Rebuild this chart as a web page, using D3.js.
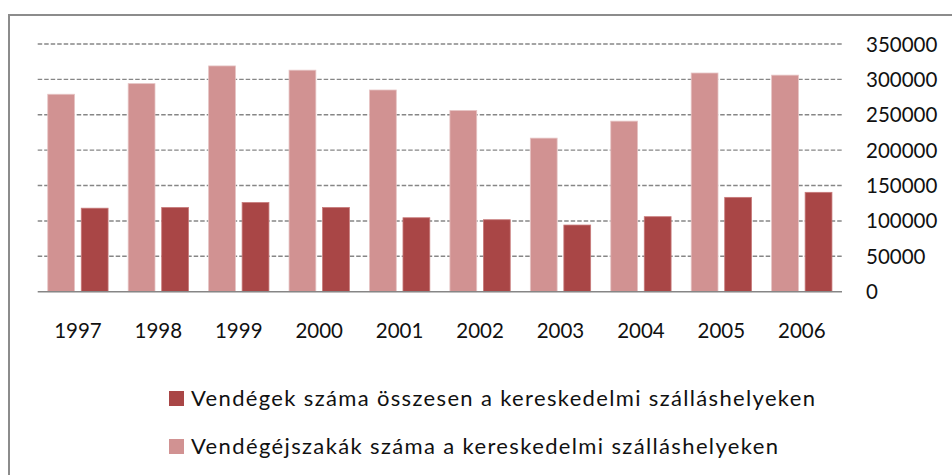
<!DOCTYPE html>
<html>
<head>
<meta charset="utf-8">
<script src="https://cdn.jsdelivr.net/npm/d3@7"></script>
<style>
  html, body { margin: 0; padding: 0; background: #fff; }
  svg { display: block; font-family: Lato, "Open Sans", sans-serif; }
</style>
</head>
<body>
<svg id="chart" width="952" height="475"></svg>
<script>
const years = ['1997','1998','1999','2000','2001','2002','2003','2004','2005','2006'];
// Vendégéjszakák száma (világos oszlop)
const nights = [279000, 294000, 319000, 313000, 285000, 256000, 217000, 241000, 309000, 306000];
// Vendégek száma összesen (sötét oszlop)
const guests = [118000, 119000, 126000, 119000, 104500, 101700, 94200, 106000, 133300, 140400];
const yTicks = [0, 50000, 100000, 150000, 200000, 250000, 300000, 350000];
const seriesNames = ['Vendégek száma összesen a kereskedelmi szálláshelyeken',
                     'Vendégéjszakák száma a kereskedelmi szálláshelyeken'];
const seriesKeys = ['nights', 'guests'];
const colors = { nights: '#d19292', guests: '#a94646' };

const rows = years.map((y, i) => ({ year: y, nights: nights[i], guests: guests[i] }));

const svg = d3.select('#chart');

// keret (csak bal és felső vonal látszik)
svg.append('path')
    .attr('d', 'M9,475 L9,15 L952,15')
    .attr('fill', 'none')
    .attr('stroke', '#8c8c8c')
    .attr('stroke-width', 2);

const plot = { left: 37.7, right: 842, top: 44, bottom: 291.7 };

const x0 = d3.scaleBand()
    .domain(years)
    .range([plot.left, plot.right])
    .paddingInner(0.25)
    .paddingOuter(0.125);

const x1 = d3.scaleBand()
    .domain(seriesKeys)
    .range([0, x0.bandwidth()])
    .paddingInner(0.2);

const y = d3.scaleLinear()
    .domain([0, 350000])
    .range([plot.bottom, plot.top]);

// rácsvonalak
svg.append('g')
    .selectAll('line')
    .data(yTicks.filter(d => d > 0))
    .enter()
    .append('line')
    .attr('x1', plot.left)
    .attr('x2', plot.right)
    .attr('y1', d => y(d))
    .attr('y2', d => y(d))
    .attr('stroke', '#868686')
    .attr('stroke-width', 1.4)
    .attr('stroke-dasharray', '4.5,2');

// oszlopok
svg.append('g')
    .selectAll('g')
    .data(rows)
    .enter()
    .append('g')
    .attr('transform', d => `translate(${x0(d.year)},0)`)
    .selectAll('rect')
    .data(d => seriesKeys.map(k => ({ key: k, value: d[k] })))
    .enter()
    .append('rect')
    .attr('x', d => x1(d.key))
    .attr('y', d => y(d.value))
    .attr('width', x1.bandwidth())
    .attr('height', d => plot.bottom - y(d.value))
    .attr('fill', d => colors[d.key])
    .attr('stroke', d => d.key === 'nights' ? '#e6c4c4' : '#c87a7a')
    .attr('stroke-width', 0.8);

// x tengely
svg.append('line')
    .attr('x1', plot.left)
    .attr('x2', plot.right)
    .attr('y1', plot.bottom)
    .attr('y2', plot.bottom)
    .attr('stroke', '#868686')
    .attr('stroke-width', 1.5);

svg.append('g')
    .selectAll('text')
    .data(years)
    .enter()
    .append('text')
    .attr('x', d => x0(d) + x0.bandwidth() / 2)
    .attr('y', plot.bottom + 46.5)
    .attr('text-anchor', 'middle')
    .style('font-size', '20.5px')
    .style('fill', '#111')
    .text(d => d);

// y tengely feliratai (jobb oldalon)
svg.append('g')
    .selectAll('text')
    .data(yTicks)
    .enter()
    .append('text')
    .attr('x', 866)
    .attr('y', d => y(d) + 7.5)
    .attr('text-anchor', 'start')
    .style('font-size', '20.5px')
    .style('fill', '#111')
    .text(d => d);

// jelmagyarázat
const legendData = [
    { name: seriesNames[0], color: colors.guests, y: 406, len: 624 },
    { name: seriesNames[1], color: colors.nights, y: 454, len: 587 }
];
const legend = svg.append('g')
    .selectAll('g')
    .data(legendData)
    .enter()
    .append('g');

legend.append('rect')
    .attr('x', 169)
    .attr('y', d => d.y - 15)
    .attr('width', 15)
    .attr('height', 15)
    .attr('fill', d => d.color);

legend.append('text')
    .attr('x', 191)
    .attr('y', d => d.y)
    .attr('textLength', d => d.len)
    .attr('lengthAdjust', 'spacing')
    .style('font-size', '22px')
    .style('fill', '#111')
    .text(d => d.name);
</script>
</body>
</html>
